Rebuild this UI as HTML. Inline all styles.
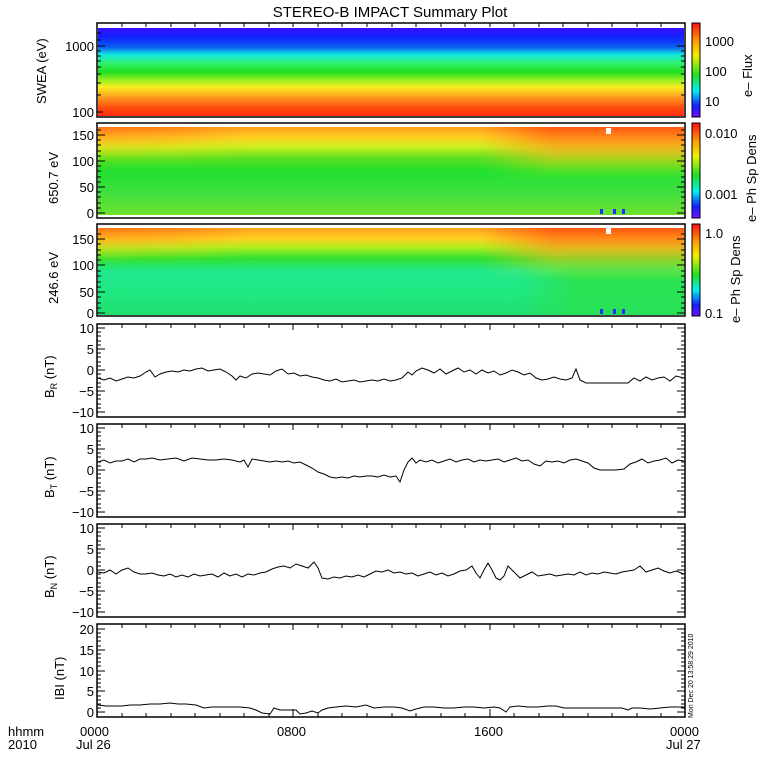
<!DOCTYPE html>
<html><head><meta charset="utf-8"><style>
html,body{margin:0;padding:0;background:#fff;}
svg{display:block;font-family:"Liberation Sans",sans-serif;}
</style></head><body>
<svg width="780" height="780" viewBox="0 0 780 780" xmlns="http://www.w3.org/2000/svg">
<defs>
<linearGradient id="g1" x1="0" y1="0" x2="0" y2="1">
<stop offset="0" stop-color="#3a10ff"/><stop offset="0.1" stop-color="#1020ff"/>
<stop offset="0.22" stop-color="#0a60f0"/><stop offset="0.3" stop-color="#10e8e0"/>
<stop offset="0.4" stop-color="#30f070"/><stop offset="0.5" stop-color="#20e020"/>
<stop offset="0.6" stop-color="#a0f020"/><stop offset="0.67" stop-color="#f8f020"/>
<stop offset="0.78" stop-color="#ffa020"/><stop offset="0.9" stop-color="#ff5010"/>
<stop offset="1" stop-color="#ff2a10"/></linearGradient>
<linearGradient id="g2" x1="0" y1="0" x2="0" y2="1">
<stop offset="0" stop-color="#ffa020"/><stop offset="0.12" stop-color="#ffd020"/>
<stop offset="0.22" stop-color="#d0f020"/><stop offset="0.35" stop-color="#60e020"/>
<stop offset="0.5" stop-color="#20e030"/><stop offset="0.75" stop-color="#40e040"/>
<stop offset="1" stop-color="#70e030"/></linearGradient>
<linearGradient id="g3" x1="0" y1="0" x2="0" y2="1">
<stop offset="0" stop-color="#ffa020"/><stop offset="0.12" stop-color="#ffd020"/>
<stop offset="0.22" stop-color="#b0f020"/><stop offset="0.35" stop-color="#30e030"/>
<stop offset="0.5" stop-color="#20e890"/><stop offset="0.75" stop-color="#20e880"/>
<stop offset="1" stop-color="#20e070"/></linearGradient>
<linearGradient id="hot" x1="0" y1="0" x2="0" y2="1">
<stop offset="0" stop-color="#ff5010" stop-opacity="0.9"/><stop offset="0.3" stop-color="#ffb020" stop-opacity="0.6"/><stop offset="0.6" stop-color="#ffff00" stop-opacity="0"/></linearGradient>
<linearGradient id="fadeR" x1="0" y1="0" x2="1" y2="0">
<stop offset="0" stop-color="#fff" stop-opacity="0"/><stop offset="0.35" stop-color="#fff" stop-opacity="1"/><stop offset="1" stop-color="#fff" stop-opacity="1"/></linearGradient>
<linearGradient id="fadeL" x1="0" y1="0" x2="1" y2="0">
<stop offset="0" stop-color="#fff" stop-opacity="1"/><stop offset="0.5" stop-color="#fff" stop-opacity="0.7"/><stop offset="1" stop-color="#fff" stop-opacity="0"/></linearGradient>
<mask id="mR" maskContentUnits="objectBoundingBox"><rect width="1" height="1" fill="url(#fadeR)"/></mask>
<mask id="mL" maskContentUnits="objectBoundingBox"><rect width="1" height="1" fill="url(#fadeL)"/></mask>
<linearGradient id="grn" x1="0" y1="0" x2="0" y2="1">
<stop offset="0" stop-color="#30e040" stop-opacity="0"/><stop offset="0.4" stop-color="#30e040" stop-opacity="0.8"/><stop offset="1" stop-color="#30e040" stop-opacity="0.5"/></linearGradient>
<linearGradient id="cb1" x1="0" y1="0" x2="0" y2="1">
<stop offset="0" stop-color="#ff1010"/><stop offset="0.2" stop-color="#ffa000"/><stop offset="0.35" stop-color="#f0f000"/>
<stop offset="0.55" stop-color="#20e020"/><stop offset="0.72" stop-color="#00f0f0"/><stop offset="0.88" stop-color="#1020ff"/><stop offset="1" stop-color="#7010ff"/></linearGradient>
</defs>
<text x="390" y="17" font-size="15" text-anchor="middle">STEREO-B IMPACT Summary Plot</text>

<!-- spectrograms -->
<rect x="98" y="28" width="586" height="88" fill="url(#g1)"/>
<rect x="98" y="127" width="586" height="88" fill="url(#g2)"/>
<rect x="480" y="127" width="204" height="88" fill="url(#hot)" mask="url(#mR)"/>
<rect x="98" y="127" width="150" height="60" fill="url(#hot)" opacity="0.6" mask="url(#mL)"/>
<rect x="98" y="228" width="586" height="87" fill="url(#g3)"/>
<rect x="520" y="250" width="164" height="65" fill="url(#grn)" mask="url(#mR)"/>
<rect x="480" y="228" width="204" height="87" fill="url(#hot)" mask="url(#mR)"/>
<rect x="98" y="228" width="150" height="60" fill="url(#hot)" opacity="0.6" mask="url(#mL)"/>
<rect x="606" y="128" width="5" height="6" fill="#fff"/><rect x="606" y="228" width="5" height="6" fill="#fff"/>
<g fill="#2030ff"><rect x="600" y="209" width="3" height="5"/><rect x="613" y="209" width="3" height="5"/><rect x="622" y="209" width="3" height="5"/>
<rect x="600" y="309" width="3" height="5"/><rect x="613" y="309" width="3" height="5"/><rect x="622" y="309" width="3" height="5"/></g>

<!-- colorbars -->
<rect x="692" y="23" width="8" height="94" fill="url(#cb1)" stroke="#000"/>
<rect x="692" y="123" width="8" height="95" fill="url(#cb1)" stroke="#000"/>
<rect x="692" y="224" width="8" height="92" fill="url(#cb1)" stroke="#000"/>
<g font-size="13">
<text x="705" y="46">1000</text><text x="705" y="76">100</text><text x="705" y="106">10</text>
<text x="705" y="138">0.010</text><text x="705" y="199">0.001</text>
<text x="705" y="238">1.0</text><text x="705" y="318">0.1</text>
<text transform="translate(752,97) rotate(-90)">e– Flux</text>
<text transform="translate(756,222) rotate(-90)">e– Ph Sp Dens</text>
<text transform="translate(740,323) rotate(-90)">e– Ph Sp Dens</text>
</g>

<!-- panel boxes -->
<g fill="none" stroke="#000" stroke-width="1.5">
<rect x="97" y="23" width="588" height="94"/>
<rect x="97" y="123" width="588" height="95"/>
<rect x="97" y="224" width="588" height="92"/>
<rect x="97" y="324" width="588" height="93"/>
<rect x="97" y="424" width="588" height="93"/>
<rect x="97" y="524" width="588" height="93"/>
<rect x="97" y="624" width="588" height="93"/>
</g>
<!-- x ticks -->
<g stroke="#000" stroke-width="1">
<path d="M122,23v4M146,23v4M171,23v4M195,23v4M220,23v4M244,23v4M269,23v4M293,23v4M318,23v4M342,23v4M367,23v4M392,23v4M416,23v4M441,23v4M465,23v4M490,23v4M514,23v4M539,23v4M563,23v4M588,23v4M612,23v4M637,23v4M661,23v4"/>
<path d="M122,717v-4M146,717v-4M171,717v-4M195,717v-4M220,717v-4M244,717v-4M269,717v-4M293,717v-8M318,717v-4M342,717v-4M367,717v-4M392,717v-4M416,717v-4M441,717v-4M465,717v-4M490,717v-8M514,717v-4M539,717v-4M563,717v-4M588,717v-4M612,717v-4M637,717v-4M661,717v-4"/>
<path d="M122,324v4M146,324v4M171,324v4M195,324v4M220,324v4M244,324v4M269,324v4M293,324v6M318,324v4M342,324v4M367,324v4M392,324v4M416,324v4M441,324v4M465,324v4M490,324v6M514,324v4M539,324v4M563,324v4M588,324v4M612,324v4M637,324v4M661,324v4"/>
<path d="M122,424v4M146,424v4M171,424v4M195,424v4M220,424v4M244,424v4M269,424v4M293,424v6M318,424v4M342,424v4M367,424v4M392,424v4M416,424v4M441,424v4M465,424v4M490,424v6M514,424v4M539,424v4M563,424v4M588,424v4M612,424v4M637,424v4M661,424v4"/>
<path d="M122,524v4M146,524v4M171,524v4M195,524v4M220,524v4M244,524v4M269,524v4M293,524v6M318,524v4M342,524v4M367,524v4M392,524v4M416,524v4M441,524v4M465,524v4M490,524v6M514,524v4M539,524v4M563,524v4M588,524v4M612,524v4M637,524v4M661,524v4"/>
<path d="M122,624v4M146,624v4M171,624v4M195,624v4M220,624v4M244,624v4M269,624v4M293,624v6M318,624v4M342,624v4M367,624v4M392,624v4M416,624v4M441,624v4M465,624v4M490,624v6M514,624v4M539,624v4M563,624v4M588,624v4M612,624v4M637,624v4M661,624v4"/>
<path d="M97,46h8M97,112h6M97,95h4M97,83h4M97,74h4M97,67h4M97,61h4M97,56h4M97,51h4M97,40h4M97,33h4M685,46h-8M685,95h-4M685,83h-4M685,74h-4M685,67h-4M685,61h-4M685,56h-4M685,51h-4"/>
<path d="M97,213h8M97,187h8M97,161h8M97,135h8M97,208h4M97,203h4M97,197h4M97,192h4M97,182h4M97,177h4M97,171h4M97,166h4M97,156h4M97,151h4M97,145h4M97,140h4M97,130h4M685,213h-8M685,187h-8M685,161h-8M685,135h-8M685,208h-4M685,203h-4M685,197h-4M685,192h-4M685,182h-4M685,177h-4M685,171h-4M685,166h-4M685,156h-4M685,151h-4M685,145h-4M685,140h-4M685,130h-4"/>
<path d="M97,313h8M97,265h8M97,265h8M97,292h8M97,239h8M97,308h4M97,303h4M97,297h4M97,287h4M97,282h4M97,276h4M97,271h4M97,260h4M97,255h4M97,250h4M97,244h4M97,234h4M685,313h-8M685,292h-8M685,265h-8M685,239h-8M685,308h-4M685,303h-4M685,297h-4M685,287h-4M685,282h-4M685,276h-4M685,271h-4M685,260h-4M685,255h-4M685,250h-4M685,244h-4M685,234h-4"/>
</g>
<g stroke="#000" stroke-width="1" id="yt">
<path d="M97,328h8M97,349h8M97,370h8M97,391h8M97,412h8M97,332h4M97,336h4M97,341h4M97,345h4M97,353h4M97,357h4M97,362h4M97,366h4M97,374h4M97,378h4M97,383h4M97,387h4M97,395h4M97,399h4M97,404h4M97,408h4M685,328h-8M685,349h-8M685,370h-8M685,391h-8M685,412h-8M685,332h-4M685,336h-4M685,341h-4M685,345h-4M685,353h-4M685,357h-4M685,362h-4M685,366h-4M685,374h-4M685,378h-4M685,383h-4M685,387h-4M685,395h-4M685,399h-4M685,404h-4M685,408h-4"/>
</g>
<use href="#yt" y="100"/><use href="#yt" y="200"/>
<g stroke="#000" stroke-width="1">
<path d="M97,629h8M97,650h8M97,671h8M97,691h8M97,712h8M97,633h4M97,637h4M97,641h4M97,646h4M97,654h4M97,658h4M97,662h4M97,666h4M97,675h4M97,679h4M97,683h4M97,687h4M97,696h4M97,700h4M97,704h4M97,708h4M685,629h-8M685,650h-8M685,671h-8M685,691h-8M685,712h-8M685,633h-4M685,637h-4M685,641h-4M685,646h-4M685,654h-4M685,658h-4M685,662h-4M685,666h-4M685,675h-4M685,679h-4M685,683h-4M685,687h-4M685,696h-4M685,700h-4M685,704h-4M685,708h-4"/>
</g>

<g font-size="13" text-anchor="end">
<text x="94" y="51">1000</text><text x="94" y="117">100</text>
<text x="94" y="140">150</text><text x="94" y="166">100</text><text x="94" y="192">50</text><text x="94" y="218">0</text>
<text x="94" y="244">150</text><text x="94" y="270">100</text><text x="94" y="297">50</text><text x="94" y="318">0</text>
<text x="94" y="333">10</text><text x="94" y="354">5</text><text x="94" y="375">0</text><text x="94" y="396">−5</text><text x="94" y="417">−10</text>
<text x="94" y="433">10</text><text x="94" y="454">5</text><text x="94" y="475">0</text><text x="94" y="496">−5</text><text x="94" y="517">−10</text>
<text x="94" y="533">10</text><text x="94" y="554">5</text><text x="94" y="575">0</text><text x="94" y="596">−5</text><text x="94" y="617">−10</text>
<text x="94" y="634">20</text><text x="94" y="655">15</text><text x="94" y="676">10</text><text x="94" y="696">5</text><text x="94" y="717">0</text>
</g>
<g font-size="13">
<text transform="translate(46,104) rotate(-90)">SWEA (eV)</text>
<text transform="translate(58,204) rotate(-90)">650.7 eV</text>
<text transform="translate(58,304) rotate(-90)">246.6 eV</text>
<text transform="translate(54,398) rotate(-90)">B<tspan font-size="9" dy="3">R</tspan><tspan dy="-3"> (nT)</tspan></text>
<text transform="translate(54,498) rotate(-90)">B<tspan font-size="9" dy="3">T</tspan><tspan dy="-3"> (nT)</tspan></text>
<text transform="translate(54,598) rotate(-90)">B<tspan font-size="9" dy="3">N</tspan><tspan dy="-3"> (nT)</tspan></text>
<text transform="translate(64,700) rotate(-90)">IBI (nT)</text>
<text transform="translate(693,718) rotate(-90)" font-size="7">Mon Dec 20 13:58:29 2010</text>
<text x="8" y="736">hhmm</text><text x="8" y="749">2010</text>
<text x="80" y="736">0000</text><text x="76" y="749">Jul 26</text>
<text x="277" y="736">0800</text><text x="474" y="736">1600</text>
<text x="670" y="736">0000</text><text x="666" y="749">Jul 27</text>
</g>

<g fill="none" stroke="#000" stroke-width="1">
<polyline points="98,378 104,380 110,378 116,381 122,379 128,377 134,378 140,376 146,372 150,370 155,377 160,374 166,372 172,371 178,372 184,370 190,371 196,369 202,368 208,371 214,370 220,369 226,372 232,376 236,380 240,376 246,378 252,374 258,373 264,374 270,375 276,371 282,369 288,374 294,373 300,376 306,375 312,377 318,378 324,380 330,381 336,379 342,382 348,381 354,380 360,382 366,381 372,380 378,381 384,379 390,381 396,380 402,378 408,372 412,375 416,371 422,368 428,370 434,373 440,369 446,374 452,371 458,368 464,372 470,370 476,374 482,370 488,373 494,371 500,375 506,373 512,370 518,372 524,375 530,373 536,378 542,380 548,379 554,377 560,379 566,380 572,378 576,369 580,380 586,383 592,383 600,383 610,383 620,383 628,383 634,378 640,381 646,377 652,380 658,378 664,377 670,381 676,376 684,378"/>
<polyline points="98,462 104,460 110,463 116,461 122,461 128,459 134,462 140,459 146,459 152,458 160,460 168,459 176,458 184,461 192,458 200,459 208,460 216,460 224,459 232,460 240,462 244,460 248,467 252,459 258,460 264,461 270,462 276,461 282,462 288,461 294,463 300,462 306,465 312,468 318,472 324,474 330,477 336,478 342,477 348,478 354,476 360,477 366,476 372,476 378,477 384,475 390,477 396,476 400,482 404,470 408,462 412,458 416,463 420,460 426,462 432,460 438,463 444,461 450,459 456,462 462,460 468,459 474,462 480,460 486,461 492,460 498,459 504,462 510,460 516,458 522,461 528,460 534,464 540,466 546,461 552,462 558,461 564,463 570,460 576,459 582,461 588,463 594,468 600,470 608,470 616,470 624,469 630,464 636,462 642,459 648,463 654,461 660,460 666,458 672,463 678,460 684,461"/>
<polyline points="98,572 104,573 110,570 116,574 122,570 128,568 134,572 140,574 146,574 152,573 158,575 164,576 170,574 176,577 182,575 188,577 194,574 200,576 206,575 212,574 218,577 224,573 230,576 236,574 242,577 248,574 254,575 260,573 266,572 272,569 278,567 284,566 290,568 296,564 302,566 308,568 314,562 318,568 322,578 328,579 334,577 340,578 346,576 352,577 358,575 364,577 370,574 376,571 382,572 388,570 394,573 400,572 406,574 412,573 418,576 424,574 430,572 436,575 442,573 448,576 454,574 460,571 466,570 472,566 476,573 480,578 484,570 488,563 492,570 496,578 500,580 504,576 508,566 512,570 516,574 520,578 526,575 532,572 538,576 544,575 550,574 556,576 562,575 568,574 574,575 580,572 586,575 592,573 598,574 604,572 610,573 616,574 622,572 628,571 634,570 640,566 646,572 652,570 658,568 664,571 670,573 676,571 684,574"/>
<polyline points="98,705 106,706 114,706 122,706 130,705 140,705 150,704 160,704 170,703 178,704 186,704 196,705 204,708 212,707 220,707 230,707 240,707 250,708 256,710 262,713 270,714 274,708 280,710 286,710 296,710 300,714 306,713 312,711 318,713 322,710 328,708 336,707 346,706 356,707 366,705 374,708 384,707 394,707 402,708 410,711 416,709 424,707 434,707 444,708 454,708 464,707 474,707 484,708 494,707 500,708 506,712 510,707 518,706 528,707 538,707 548,706 556,706 564,708 574,708 584,708 594,708 604,708 614,708 622,708 628,710 632,708 640,708 650,709 660,708 670,707 684,707"/>
</g>
</svg>
</body></html>
